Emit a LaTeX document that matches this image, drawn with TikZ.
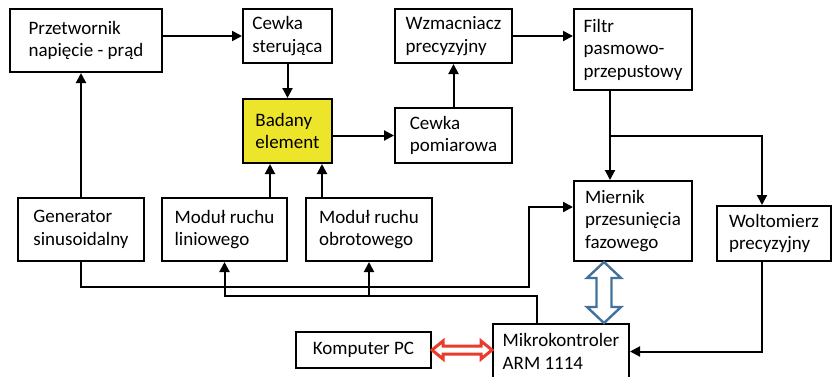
\documentclass[tikz,border=0pt]{standalone}
\usepackage{fontspec}
\setmainfont{Carlito}
\usepackage{xcolor}
\usetikzlibrary{arrows.meta, calc, positioning}
\definecolor{elemyellow}{RGB}{237,229,42}
\definecolor{busblue}{RGB}{65,113,156}
\definecolor{pcred}{RGB}{235,59,43}

\begin{document}
\begin{tikzpicture}[x=1pt, y=-1pt,
        blok/.style={draw, line width=2pt, align=left, inner sep=0pt, font=\fontsize{19}{22.5}\selectfont},
        lacz/.style={line width=2pt, -{Triangle[length=10pt,width=10pt]}}]
        \useasboundingbox (0,0) rectangle (832,376);
        \node[blok, minimum width=152, minimum height=63] (przetw) at (86,40.5) {Przetwornik\\napięcie - prąd};
        \node[blok, minimum width=89, minimum height=54] (cewkaS) at (287.5,36) {Cewka\\sterująca};
        \node[blok, fill=elemyellow, minimum width=89, minimum height=64] (badany) at (287.5,131) {Badany\\element};
        \node[blok, minimum width=117, minimum height=55] (cewkaP) at (453.5,135.5) {Cewka\\pomiarowa};
        \node[blok, minimum width=117, minimum height=54] (wzmac) at (453.5,36) {Wzmacniacz\\precyzyjny};
        \node[blok, minimum width=118, minimum height=81] (filtr) at (633,49.5) {Filtr\\pasmowo-\\przepustowy};
        \node[blok, minimum width=118, minimum height=80] (miernik) at (633,221) {Miernik\\przesunięcia\\fazowego};
        \node[blok, minimum width=114, minimum height=55] (woltom) at (774,233.5) {Woltomierz\\precyzyjny};
        \node[blok, minimum width=136, minimum height=55] (mikro) at (561,351.5) {Mikrokontroler\\ARM 1114};
        \node[blok, minimum width=135, minimum height=36] (komp) at (363.5,350) {Komputer PC};
        \node[blok, minimum width=126, minimum height=63] (gen) at (81,229.5) {Generator\\sinusoidalny};
        \node[blok, minimum width=125, minimum height=63] (modulL) at (224.5,229.5) {Moduł ruchu\\liniowego};
        \node[blok, minimum width=126, minimum height=63] (modulO) at (369,229.5) {Moduł ruchu\\obrotowego};
        % tor sygnalu
        \draw[lacz] (przetw.east |- cewkaS.west) -- (cewkaS.west);
        \draw[lacz] (cewkaS) -- (badany);
        \draw[lacz] (badany.east |- cewkaP.west) -- (cewkaP.west);
        \draw[lacz] (cewkaP) -- (wzmac);
        \draw[lacz] (wzmac.east) -- (wzmac.east -| filtr.west);
        \coordinate (fwyj) at ($(filtr.south west)+(37,0)$);
        \coordinate (rozg) at (fwyj |- cewkaP);
        \coordinate (wwej) at ($(woltom.north west)+(46,0)$);
        \coordinate (wwyj) at (wwej |- woltom.south);
        \draw[lacz] (fwyj) -- (fwyj |- miernik.north);
        \draw[lacz] (rozg) -| (wwej);
        \draw[lacz] (wwyj) |- (mikro.east);
        \draw[lacz] (gen.north) -- (gen.north |- przetw.south);
        \coordinate (gzal) at (529,287);
        \draw[lacz] (gen.south) |- (gzal) |- ($(miernik.west)+(0,-14)$);
        % sterowanie modulami
        \coordinate (mwyj) at ($(mikro.north west)+(45,0)$);
        \coordinate (mzal) at ($(mwyj)+(0,-27)$);
        \draw[lacz] (mwyj) -- (mzal) -| (modulL.south);
        \draw[lacz] (mzal -| modulO.south) -- (modulO.south);
        \coordinate (lwyj) at ($(modulL.north east)+(-18,0)$);
        \coordinate (owyj) at ($(modulO.north west)+(17,0)$);
        \draw[lacz] (lwyj) -- (lwyj |- badany.south);
        \draw[lacz] (owyj) -- (owyj |- badany.south);
        % magistrale
        \coordinate (sg) at ($(miernik.south west)+(31,0)$);
        \coordinate (sd) at (sg |- mikro.north);
        \draw[busblue, line width=2.4pt, fill=white] (sg) -- ($(sg)+(17,16)$) -- ($(sg)+(7.5,16)$) -- ($(sd)+(7.5,-16)$) -- ($(sd)+(17,-16)$) -- (sd)
            -- ($(sd)+(-17,-16)$) -- ($(sd)+(-7.5,-16)$) -- ($(sg)+(-7.5,16)$) -- ($(sg)+(-17,16)$) -- cycle;
        \coordinate (kl) at (komp.east);
        \coordinate (kp) at (komp.east -| mikro.west);
        \draw[pcred, line width=3pt, fill=white] (kl) -- ($(kl)+(11,-9)$) -- ($(kl)+(11,-4)$) -- ($(kp)+(-11,-4)$) -- ($(kp)+(-11,-9)$) -- (kp)
            -- ($(kp)+(-11,9)$) -- ($(kp)+(-11,4)$) -- ($(kl)+(11,4)$) -- ($(kl)+(11,9)$) -- cycle;
\end{tikzpicture}
\end{document}
